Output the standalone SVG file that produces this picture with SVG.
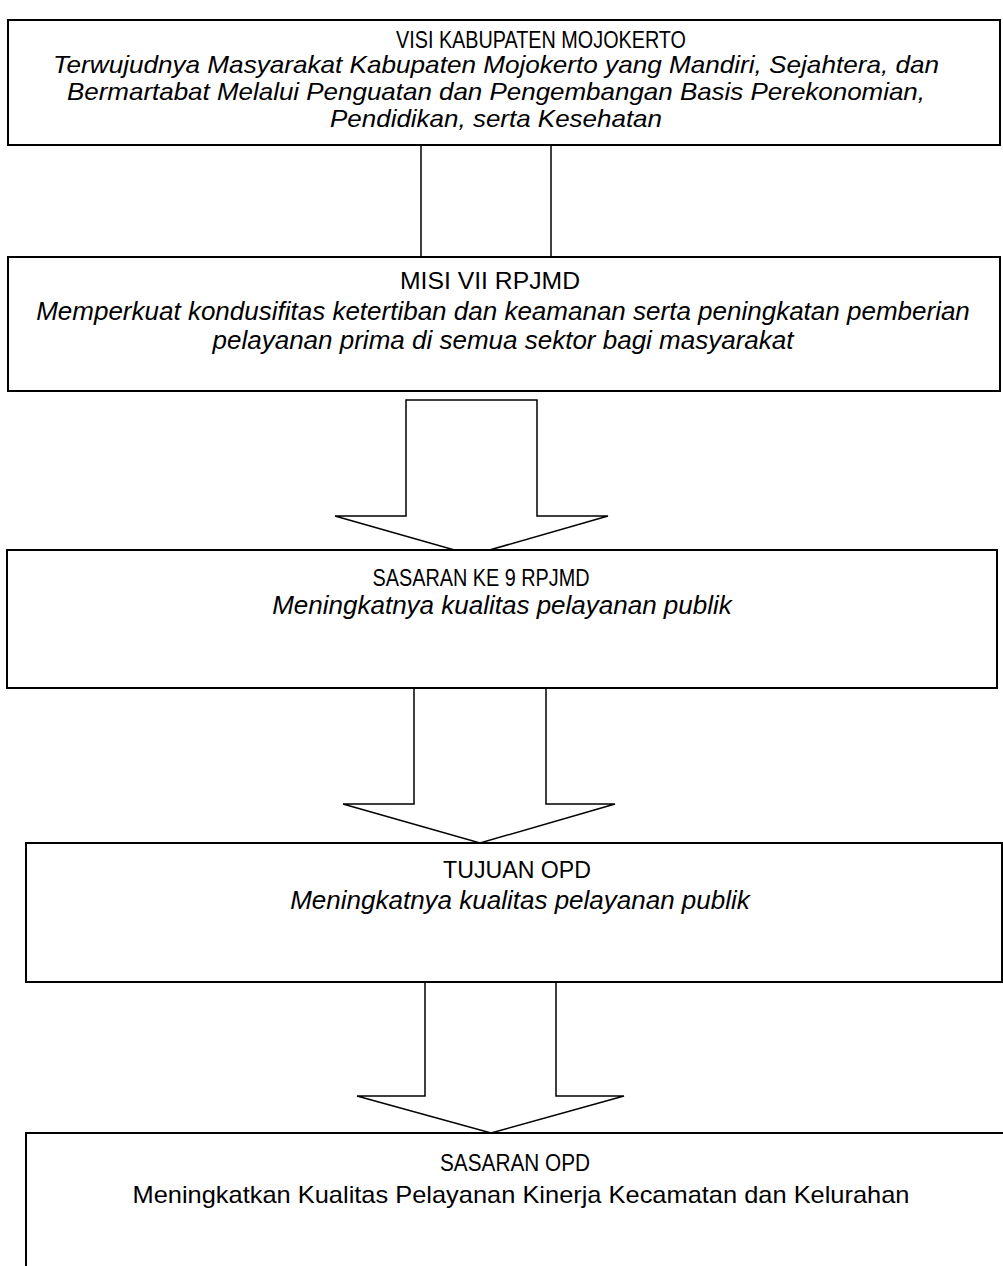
<svg xmlns="http://www.w3.org/2000/svg" width="1003" height="1266" viewBox="0 0 1003 1266">
<style>
.box{fill:#fff;stroke:#000;stroke-width:2}
.conn{fill:#fff;stroke:#000;stroke-width:1.5;stroke-linejoin:miter}
.ln{stroke:#000;stroke-width:1.5;fill:none}
.t{font-family:"Liberation Sans",Arial,sans-serif;font-size:24px;fill:#000;text-anchor:middle}
.i{font-family:"Liberation Sans",Arial,sans-serif;font-size:26px;font-style:italic;fill:#000;text-anchor:middle}
.iv{font-family:"Liberation Sans",Arial,sans-serif;font-size:24px;font-style:italic;fill:#000;text-anchor:middle}
.u{font-family:"Liberation Sans",Arial,sans-serif;font-size:24px;fill:#000;text-anchor:middle}
</style>
<rect width="1003" height="1266" fill="#fff"/>
<g id="connectors">
<line class="ln" x1="421" y1="145" x2="421" y2="257"/>
<line class="ln" x1="551" y1="145" x2="551" y2="257"/>
<polygon class="conn" points="406,400 537,400 537,516 608,516 472,555 335,516 406,516"/>
<polygon class="conn" points="414,688 546,688 546,804 615,804 480,843 343,804 414,804"/>
<polygon class="conn" points="425,982 556,982 556,1096 624,1096 491,1133 357,1096 425,1096"/>
</g>
<g id="visi">
<rect class="box" x="8" y="20" width="992" height="125"/>
<text class="t" x="541" y="48" textLength="290" lengthAdjust="spacingAndGlyphs">VISI KABUPATEN MOJOKERTO</text>
<text class="iv" x="496" y="73" textLength="886" lengthAdjust="spacingAndGlyphs">Terwujudnya Masyarakat Kabupaten Mojokerto yang Mandiri, Sejahtera, dan</text>
<text class="iv" x="496" y="100" textLength="858" lengthAdjust="spacingAndGlyphs">Bermartabat Melalui Penguatan dan Pengembangan Basis Perekonomian,</text>
<text class="iv" x="496" y="127" textLength="332" lengthAdjust="spacingAndGlyphs">Pendidikan, serta Kesehatan</text>
</g>
<g id="misi">
<rect class="box" x="8" y="257" width="992" height="134"/>
<text class="t" x="490" y="289" textLength="180" lengthAdjust="spacingAndGlyphs">MISI VII RPJMD</text>
<text class="i" x="503" y="320">Memperkuat kondusifitas ketertiban dan keamanan serta peningkatan pemberian</text>
<text class="i" x="503" y="349">pelayanan prima di semua sektor bagi masyarakat</text>
</g>
<g id="sasaran-rpjmd">
<rect class="box" x="7" y="550" width="990" height="138"/>
<text class="t" x="481" y="586" textLength="217" lengthAdjust="spacingAndGlyphs">SASARAN KE 9 RPJMD</text>
<text class="i" x="502" y="614">Meningkatnya kualitas pelayanan publik</text>
</g>
<g id="tujuan-opd">
<rect class="box" x="26" y="843" width="976" height="139"/>
<text class="t" x="517" y="878" textLength="148" lengthAdjust="spacingAndGlyphs">TUJUAN OPD</text>
<text class="i" x="520" y="909">Meningkatnya kualitas pelayanan publik</text>
</g>
<g id="sasaran-opd">
<rect class="box" x="26" y="1133" width="1000" height="200"/>
<text class="t" x="515" y="1171" textLength="150" lengthAdjust="spacingAndGlyphs">SASARAN OPD</text>
<text class="u" x="521" y="1203" textLength="777" lengthAdjust="spacingAndGlyphs">Meningkatkan Kualitas Pelayanan Kinerja Kecamatan dan Kelurahan</text>
</g>
</svg>
